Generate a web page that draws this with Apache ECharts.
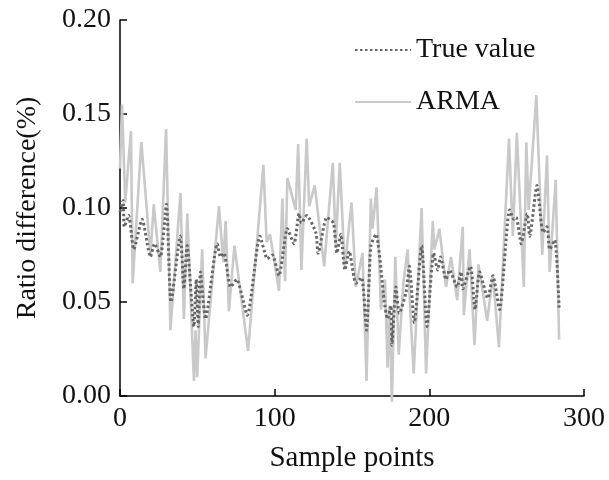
<!DOCTYPE html>
<html>
<head>
<meta charset="utf-8">
<script src="https://cdn.jsdelivr.net/npm/echarts@6/dist/echarts.min.js"></script>
<style>html,body{margin:0;padding:0;background:#fff;}#chart{width:609px;height:480px;}</style>
</head>
<body>
<div id="chart"></div>
<script>
var seriesNames = ['True value', 'ARMA'];
var xTicks = [0, 100, 200, 300];
var yTicks = [0.00, 0.05, 0.10, 0.15, 0.20];

var trueX = [0, 2, 2.8, 5.6, 8.9, 14.3, 19.7, 22.3, 26.1, 30, 33, 39, 41.3, 43.4, 47.8, 49.3, 50.6, 52, 55.3, 62.9, 65, 67.2, 71.5, 75.4, 82.3, 90.5, 95.3, 98.5, 102.8, 108.2, 112.5, 115.8, 117.3, 120.7, 126.6, 128.1, 133.7, 138, 140.2, 142.8, 145.4, 148.2, 152.5, 156.2, 159.4, 162.2, 165.5, 170.9, 173, 175.2, 175.8, 178.4, 180.6, 184.9, 187.1, 190.3, 195, 198.5, 202.8, 205.4, 207.2, 210.8, 213, 218, 220.5, 221.6, 226.6, 229.6, 232.5, 237.8, 241.1, 245.4, 251.9, 254.7, 256.2, 259.4, 263.3, 264.9, 269.6, 273.5, 276.1, 277.8, 281.1, 283.9];
var trueY = [0.098, 0.104, 0.090, 0.096, 0.078, 0.094, 0.074, 0.081, 0.074, 0.102, 0.050, 0.085, 0.057, 0.080, 0.037, 0.062, 0.037, 0.066, 0.041, 0.081, 0.074, 0.076, 0.058, 0.062, 0.043, 0.085, 0.073, 0.075, 0.064, 0.089, 0.081, 0.097, 0.092, 0.096, 0.087, 0.076, 0.095, 0.092, 0.076, 0.086, 0.067, 0.077, 0.060, 0.063, 0.035, 0.080, 0.086, 0.050, 0.041, 0.048, 0.027, 0.058, 0.044, 0.055, 0.069, 0.039, 0.080, 0.037, 0.076, 0.067, 0.074, 0.062, 0.067, 0.058, 0.066, 0.057, 0.069, 0.046, 0.066, 0.052, 0.064, 0.046, 0.099, 0.094, 0.095, 0.081, 0.097, 0.085, 0.112, 0.087, 0.090, 0.078, 0.083, 0.047];

var armaX = [0, 1.3, 3.4, 7.1, 8.2, 13.8, 19.7, 21.8, 26.1, 29.8, 32.6, 39.1, 41.3, 43.5, 47.8, 48.8, 49.9, 53.1, 55.3, 64, 66.8, 68.3, 70.4, 74, 82.8, 92.7, 94.8, 97, 102.8, 105, 106.7, 108.2, 113.6, 115.2, 117.3, 120.7, 122.3, 125.9, 132, 137.6, 139.5, 142.1, 145.3, 149.7, 152.5, 156.8, 159.4, 162.2, 163.3, 165.9, 168.7, 171.3, 173, 174.1, 175.8, 178, 180.2, 183.2, 186, 187.7, 189.9, 195, 197.9, 202.2, 203.3, 206.5, 210.8, 214, 218, 221.6, 222.3, 226, 229.2, 231.8, 237.4, 241.1, 245, 251.5, 254, 256.6, 261.1, 262.7, 264.2, 269.2, 273, 276.1, 277.8, 281.7, 283.9];
var armaY = [0.121, 0.155, 0.103, 0.141, 0.060, 0.135, 0.075, 0.102, 0.066, 0.142, 0.035, 0.108, 0.041, 0.097, 0.008, 0.035, 0.010, 0.078, 0.020, 0.101, 0.071, 0.093, 0.045, 0.080, 0.024, 0.123, 0.082, 0.086, 0.056, 0.105, 0.061, 0.116, 0.099, 0.134, 0.067, 0.137, 0.101, 0.112, 0.069, 0.124, 0.080, 0.124, 0.068, 0.103, 0.058, 0.076, 0.008, 0.105, 0.089, 0.111, 0.046, 0.062, 0.015, 0.048, -0.003, 0.074, 0.022, 0.060, 0.078, 0.045, 0.012, 0.100, 0.012, 0.093, 0.078, 0.089, 0.058, 0.074, 0.051, 0.090, 0.043, 0.078, 0.027, 0.070, 0.040, 0.064, 0.026, 0.137, 0.085, 0.140, 0.058, 0.135, 0.099, 0.160, 0.075, 0.128, 0.066, 0.115, 0.030];

function pairs(xs, ys) { return xs.map(function (x, i) { return [x, ys[i]]; }); }

var FONT = '"Liberation Serif", "Times New Roman", serif';
var chart = echarts.init(document.getElementById('chart'), null, { renderer: 'canvas' });
chart.setOption({
  animation: false,
  backgroundColor: '#ffffff',
  grid: { left: 120, right: 25, top: 20, bottom: 84 },
  legend: {
    data: seriesNames,
    orient: 'vertical',
    left: 349,
    top: 31,
    itemWidth: 56,
    itemHeight: 14,
    itemGap: 24,
    itemStyle: { opacity: 0 },
    textStyle: { fontFamily: FONT, fontSize: 28, color: '#111' }
  },
  xAxis: {
    type: 'value',
    min: xTicks[0],
    max: xTicks[xTicks.length - 1],
    interval: 100,
    name: 'Sample points',
    nameLocation: 'middle',
    nameGap: 48,
    nameTextStyle: { fontFamily: FONT, fontSize: 29, color: '#111' },
    axisLine: { show: true, lineStyle: { color: '#000', width: 1.5 } },
    axisTick: { show: true, inside: true, length: 7, lineStyle: { color: '#000', width: 1.5 } },
    axisLabel: { fontFamily: FONT, fontSize: 28, color: '#111', margin: 9 },
    splitLine: { show: false }
  },
  yAxis: {
    type: 'value',
    min: yTicks[0],
    max: yTicks[yTicks.length - 1],
    interval: 0.05,
    name: 'Ratio difference(%)',
    nameLocation: 'middle',
    nameGap: 78,
    nameTextStyle: { fontFamily: FONT, fontSize: 28, color: '#111' },
    axisLine: { show: true, lineStyle: { color: '#000', width: 1.5 } },
    axisTick: { show: true, inside: true, length: 7, lineStyle: { color: '#000', width: 1.5 } },
    axisLabel: { fontFamily: FONT, fontSize: 28, color: '#111', margin: 9, formatter: function (v) { return v.toFixed(2); } },
    splitLine: { show: false }
  },
  series: [
    {
      name: seriesNames[1],
      type: 'line',
      data: pairs(armaX, armaY),
      symbol: 'none',
      clip: false,
      z: 2,
      lineStyle: { color: '#c9c9c9', width: 2.6 },
      itemStyle: { color: '#c9c9c9' }
    },
    {
      name: seriesNames[0],
      type: 'line',
      data: pairs(trueX, trueY),
      symbol: 'none',
      smooth: 0.2,
      z: 3,
      lineStyle: { color: '#666666', width: 3, type: [2.5, 2.5], cap: 'butt' },
      itemStyle: { color: '#666666' }
    }
  ]
});
</script>
</body>
</html>
